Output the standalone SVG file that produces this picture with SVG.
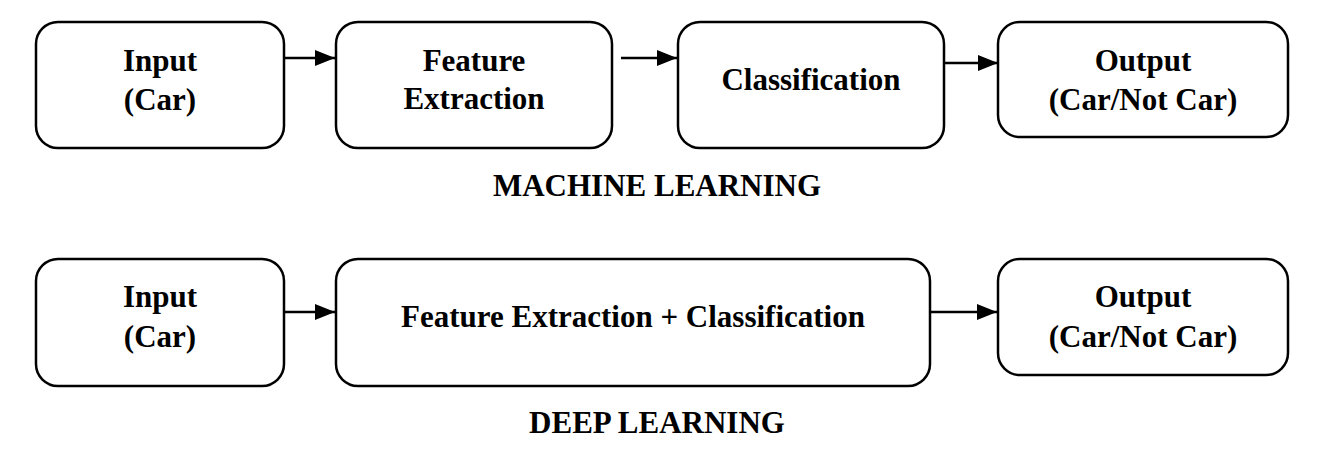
<svg xmlns="http://www.w3.org/2000/svg" width="1324" height="456" viewBox="0 0 1324 456">
<style>
.box{fill:#fff;stroke:#000;stroke-width:2.5}
.t{font-weight:bold;font-size:31px;text-anchor:middle;fill:#000}
.c{stroke:#000;stroke-width:2.5;fill:none}
</style>
<defs>
<marker id="a" markerWidth="20" markerHeight="16" refX="20" refY="8" orient="auto" markerUnits="userSpaceOnUse">
<path d="M0,0 L20,8 L0,16 z" fill="#000"/>
</marker>
</defs>
<rect width="1324" height="456" fill="#fff"/>
<g id="connectors">
<line class="c" x1="285" y1="58" x2="335" y2="58" marker-end="url(#a)"/>
<line class="c" x1="621" y1="58" x2="677" y2="58" marker-end="url(#a)"/>
<line class="c" x1="945" y1="63" x2="998" y2="63" marker-end="url(#a)"/>
<line class="c" x1="285" y1="312" x2="335" y2="312" marker-end="url(#a)"/>
<line class="c" x1="930" y1="312" x2="997" y2="312" marker-end="url(#a)"/>
</g>
<g font-family="'Liberation Serif', 'Times New Roman', serif">
<g id="ml-input">
<rect class="box" x="36" y="22" width="248" height="126" rx="22"/>
<text class="t" x="160" y="71">Input</text>
<text class="t" x="160" y="110">(Car)</text>
</g>
<g id="ml-feature">
<rect class="box" x="336" y="22" width="276" height="126" rx="22"/>
<text class="t" x="474" y="71">Feature</text>
<text class="t" x="474" y="109">Extraction</text>
</g>
<g id="ml-class">
<rect class="box" x="678" y="22" width="266" height="126" rx="22"/>
<text class="t" x="811" y="90">Classification</text>
</g>
<g id="ml-output">
<rect class="box" x="998" y="22" width="290" height="115" rx="22"/>
<text class="t" x="1143" y="71">Output</text>
<text class="t" x="1143" y="110">(Car/Not Car)</text>
</g>
<text class="t" x="657" y="196">MACHINE LEARNING</text>
<g id="dl-input">
<rect class="box" x="36" y="259" width="248" height="127" rx="22"/>
<text class="t" x="160" y="307">Input</text>
<text class="t" x="160" y="347">(Car)</text>
</g>
<g id="dl-feature">
<rect class="box" x="336" y="259" width="594" height="127" rx="22"/>
<text class="t" x="633" y="327">Feature Extraction + Classification</text>
</g>
<g id="dl-output">
<rect class="box" x="998" y="259" width="290" height="116" rx="22"/>
<text class="t" x="1143" y="307">Output</text>
<text class="t" x="1143" y="347">(Car/Not Car)</text>
</g>
<text class="t" x="657" y="433">DEEP LEARNING</text>
</g>
</svg>
